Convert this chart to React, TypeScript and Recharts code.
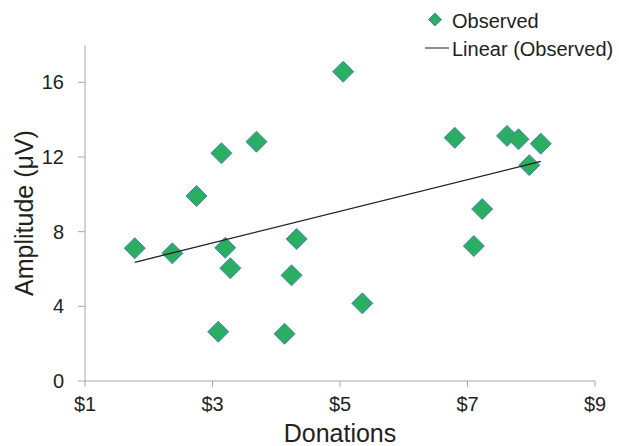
import React from "react";
import { ScatterChart, Scatter, XAxis, YAxis, Legend, Label } from "recharts";

// Observed amplitude per donation amount
const donations = [1.78, 2.37, 2.75, 3.14, 3.09, 3.2, 3.28, 3.69, 4.13, 4.24, 4.32, 5.05, 5.35, 6.8, 7.1, 7.23, 7.62, 7.8, 7.97, 8.15];
const amplitudes = [7.11, 6.84, 9.91, 12.2, 2.64, 7.14, 6.04, 12.82, 2.53, 5.66, 7.61, 16.57, 4.16, 13.03, 7.23, 9.21, 13.13, 12.95, 11.56, 12.71];

const xTicks = [1, 3, 5, 7, 9];
const yTicks = [0, 4, 8, 12, 16];
const seriesName = "Observed";
const trendName = "Linear (Observed)";
const xTitle = "Donations";
const yTitle = "Amplitude (\u03bcV)";

const FONT = '"Liberation Sans", Arial, Helvetica, sans-serif';
const TEXT = "#231f20";
const AXIS = "#a6a6a6";
const FILL = "#2aae62";
const EDGE = "#4f81bd";

const points = donations.map((x, i) => ({ x, y: amplitudes[i] }));

// Least-squares linear fit across the observed x range
const n = points.length;
const mx = donations.reduce((a, b) => a + b, 0) / n;
const my = amplitudes.reduce((a, b) => a + b, 0) / n;
let sxy = 0;
let sxx = 0;
points.forEach((p) => {
  sxy += (p.x - mx) * (p.y - my);
  sxx += (p.x - mx) * (p.x - mx);
});
const slope = sxy / sxx;
const intercept = my - slope * mx;
const xMin = Math.min(...donations);
const xMax = Math.max(...donations);
const trend = [
  { x: xMin, y: intercept + slope * xMin },
  { x: xMax, y: intercept + slope * xMax },
];

const Diamond = (props: any) => {
  const { cx, cy } = props;
  if (cx == null || cy == null) return <g />;
  const r = 10.5;
  return (
    <polygon
      points={`${cx},${cy - r} ${cx + r},${cy} ${cx},${cy + r} ${cx - r},${cy}`}
      fill={FILL}
      stroke={EDGE}
      strokeWidth={1}
    />
  );
};

const NoDot = () => <g />;

const renderLegend = () => (
  <svg width={619} height={64} style={{ display: "block" }}>
    <polygon points="435,13 441.5,19.5 435,26 428.5,19.5" fill={FILL} stroke={EDGE} strokeWidth={1} />
    <text x={452} y={28} fontFamily={FONT} fontSize={20} fill={TEXT}>
      {seriesName}
    </text>
    <line x1={425} y1={48} x2={449} y2={48} stroke="#404040" strokeWidth={1.2} />
    <text x={452} y={56} fontFamily={FONT} fontSize={20} fill={TEXT}>
      {trendName}
    </text>
  </svg>
);

export default function App() {
  return (
    <div style={{ position: "absolute", left: 0, top: 0, width: 619, height: 446, background: "#fff" }}>
      <ScatterChart width={619} height={446} margin={{ top: 45, right: 24, bottom: 0, left: 0 }}>
        <XAxis
          type="number"
          dataKey="x"
          domain={[1, 9]}
          ticks={xTicks}
          tickFormatter={(v: number) => `$${v}`}
          height={65}
          allowDataOverflow
          stroke={AXIS}
          tickSize={6}
          tickMargin={10}
          tick={{ fill: TEXT, fontSize: 20, fontFamily: FONT }}
        >
          <Label
            content={(p: any) => {
              const vb = p.viewBox || {};
              return (
                <text x={vb.x + vb.width / 2} y={442} textAnchor="middle" fontFamily={FONT} fontSize={25} fill={TEXT}>
                  {xTitle}
                </text>
              );
            }}
          />
        </XAxis>
        <YAxis
          type="number"
          dataKey="y"
          domain={[0, 18]}
          ticks={yTicks}
          width={85}
          allowDataOverflow
          stroke={AXIS}
          tickSize={7}
          tickMargin={14}
          tick={{ fill: TEXT, fontSize: 20, fontFamily: FONT }}
        >
          <Label
            content={(p: any) => {
              const vb = p.viewBox || {};
              const cy = vb.y + vb.height / 2;
              return (
                <text
                  x={33}
                  y={cy}
                  transform={`rotate(-90, 33, ${cy})`}
                  textAnchor="middle"
                  fontFamily={FONT}
                  fontSize={25}
                  fill={TEXT}
                >
                  {yTitle}
                </text>
              );
            }}
          />
        </YAxis>
        <Legend
          layout="horizontal"
          verticalAlign="middle"
          align="center"
          content={renderLegend}
          wrapperStyle={{ top: 0, left: 0, width: 619, height: 64 }}
        />
        <Scatter name={seriesName} data={points} shape={Diamond} isAnimationActive={false} />
        <Scatter
          name={trendName}
          data={trend}
          line={{ stroke: TEXT, strokeWidth: 1.3 }}
          shape={NoDot}
          isAnimationActive={false}
        />
      </ScatterChart>
    </div>
  );
}
